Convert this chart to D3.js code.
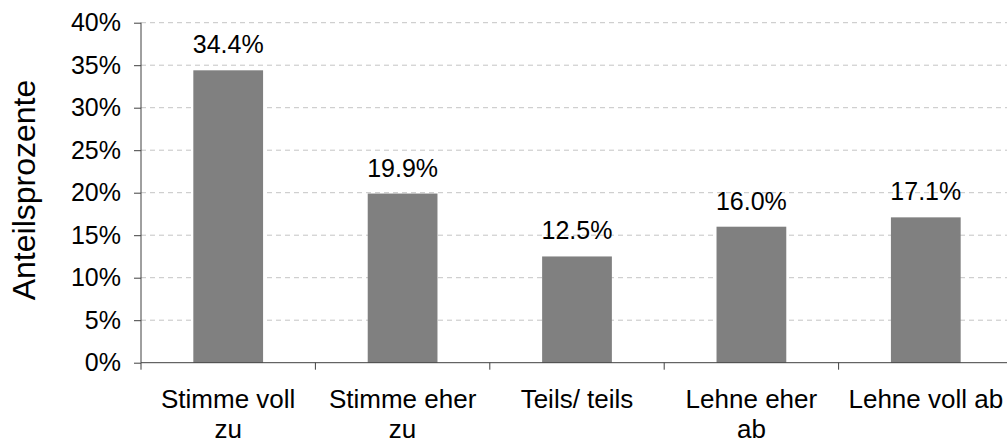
<!DOCTYPE html>
<html lang="de">
<head>
    <meta charset="UTF-8">
    <title>Anteilsprozente</title>
    <script src="https://cdn.jsdelivr.net/npm/d3@7/dist/d3.min.js"></script>
    <style>
        body { margin: 0; background: #fff; }
        svg text { font-family: "Liberation Sans", Arial, sans-serif; fill: #000; }
    </style>
</head>
<body>
<svg id="chart"></svg>

<script>
    // Daten
    const categories = [["Stimme voll", "zu"], ["Stimme eher", "zu"], ["Teils/ teils"], ["Lehne eher", "ab"], ["Lehne voll ab"]];
    const values = [34.4, 19.9, 12.5, 16.0, 17.1];
    const yTicks = [0, 5, 10, 15, 20, 25, 30, 35, 40];

    const W = 1007, H = 445;
    const margin = {top: 22.7, left: 141};
    const width = 872;  // plot runs slightly past the right edge, like the original
    const height = 340;

    const svg = d3.select("#chart").attr("width", W).attr("height", H);
    const g = svg.append("g").attr("transform", "translate(" + margin.left + "," + margin.top + ")");

    const keys = categories.map(function (d, i) { return i; });
    const x = d3.scaleBand().domain(keys).range([0, width]).paddingInner(0.6).paddingOuter(0.3);
    const xEdge = d3.scaleLinear().domain([0, categories.length]).range([0, width]); // Kategoriegrenzen
    const y = d3.scaleLinear().domain([0, 40]).range([height, 0]);

    // Gitterlinien
    g.append("g")
        .selectAll("line")
        .data(yTicks.filter(function (t) { return t > 0; }))
        .enter().append("line")
        .attr("x1", 0).attr("x2", width)
        .attr("y1", function (d) { return y(d); })
        .attr("y2", function (d) { return y(d); })
        .attr("stroke", "#c4c4c4")
        .attr("stroke-width", 1)
        .attr("stroke-dasharray", "5,4");

    // Balken
    g.selectAll(".bar")
        .data(values)
        .enter().append("rect")
        .attr("class", "bar")
        .attr("fill", "#808080")
        .attr("x", function (d, i) { return x(i); })
        .attr("width", x.bandwidth())
        .attr("y", function (d) { return y(d); })
        .attr("height", function (d) { return height - y(d); });

    // Werte über den Balken
    g.append("g")
        .selectAll("text")
        .data(values)
        .enter().append("text")
        .attr("text-anchor", "middle")
        .attr("font-size", "25px")
        .attr("x", function (d, i) { return x(i) + x.bandwidth() / 2; })
        .attr("y", function (d) { return y(d) - 17; })
        .text(function (d) { return d.toFixed(1) + "%"; });

    // y-Achse
    const yAxis = g.append("g")
        .call(d3.axisLeft(y).tickValues(yTicks).tickSize(7).tickPadding(13)
            .tickFormat(function (d) { return d + "%"; }));
    yAxis.select(".domain").attr("stroke", "#404040").attr("d", "M0,0V" + height);
    yAxis.selectAll(".tick line").attr("stroke", "#404040");
    yAxis.selectAll(".tick text").attr("font-size", "25px");

    // x-Achse
    const xAxis = g.append("g").attr("transform", "translate(0," + height + ")");
    xAxis.append("line")
        .attr("x1", 0).attr("x2", width)
        .attr("stroke", "#404040");
    xAxis.selectAll(".xtick")
        .data(d3.range(categories.length + 1))
        .enter().append("line")
        .attr("class", "xtick")
        .attr("x1", function (d) { return xEdge(d); })
        .attr("x2", function (d) { return xEdge(d); })
        .attr("y1", 0).attr("y2", 7)
        .attr("stroke", "#404040");

    const labels = xAxis.selectAll(".xlabel")
        .data(categories)
        .enter().append("text")
        .attr("class", "xlabel")
        .attr("text-anchor", "middle")
        .attr("font-size", "26px")
        .attr("transform", function (d, i) { return "translate(" + (x(i) + x.bandwidth() / 2) + ",45.5)"; });
    labels.selectAll("tspan")
        .data(function (d) { return d; })
        .enter().append("tspan")
        .attr("x", 0)
        .attr("y", function (d, i) { return i * 30; })
        .text(function (d) { return d; });

    // Achsentitel
    svg.append("text")
        .attr("text-anchor", "middle")
        .attr("font-size", "32px")
        .attr("transform", "translate(35,190) rotate(-90)")
        .text("Anteilsprozente");
</script>
</body>
</html>
